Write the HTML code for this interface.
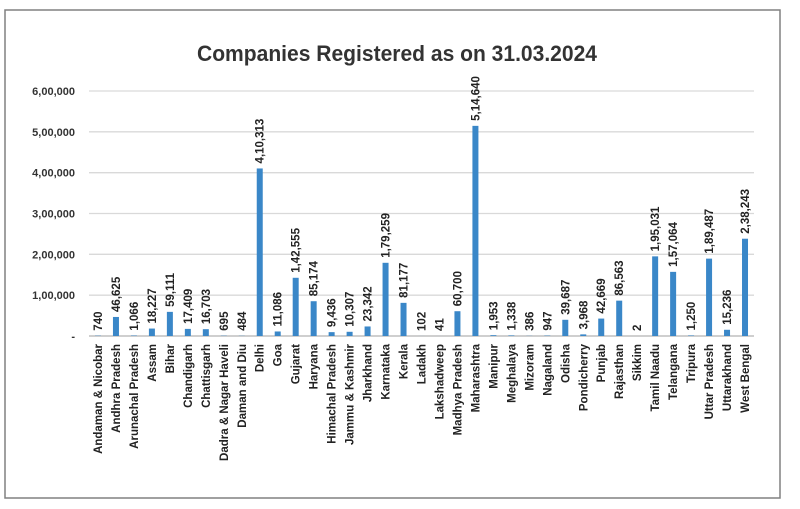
<!DOCTYPE html>
<html><head><meta charset="utf-8"><style>
html,body{margin:0;padding:0;background:#fff;}
svg{display:block;font-family:"Liberation Sans",sans-serif;}
</style></head><body>
<svg id="chart" width="800" height="509">
<rect x="5" y="10" width="775" height="488" fill="#fff" stroke="#808080" stroke-width="1.5"/>
<text x="397" y="61" text-anchor="middle" font-size="22" font-weight="bold" fill="#333" textLength="400" lengthAdjust="spacingAndGlyphs">Companies Registered as on 31.03.2024</text>
<g id="grid"></g><g id="bars"></g><g id="labels"></g>
</svg>
<script>
const categories=["Andaman & Nicobar","Andhra Pradesh","Arunachal Pradesh","Assam","Bihar","Chandigarh","Chattisgarh","Dadra & Nagar Haveli","Daman and Diu","Delhi","Goa","Gujarat","Haryana","Himachal Pradesh","Jammu & Kashmir","Jharkhand","Karnataka","Kerala","Ladakh","Lakshadweep","Madhya Pradesh","Maharashtra","Manipur","Meghalaya","Mizoram","Nagaland","Odisha","Pondicherry","Punjab","Rajasthan","Sikkim","Tamil Naadu","Telangana","Tripura","Uttar Pradesh","Uttarakhand","West Bengal"];
const values=[740,46625,1066,18227,59111,17409,16703,695,484,410313,11086,142555,85174,9436,10307,23342,179259,81177,102,41,60700,514640,1953,1338,386,947,39687,3968,42669,86563,2,195031,157064,1250,189487,15236,238243];
const valueLabels=["740","46,625","1,066","18,227","59,111","17,409","16,703","695","484","4,10,313","11,086","1,42,555","85,174","9,436","10,307","23,342","1,79,259","81,177","102","41","60,700","5,14,640","1,953","1,338","386","947","39,687","3,968","42,669","86,563","2","1,95,031","1,57,064","1,250","1,89,487","15,236","2,38,243"];
const tickValues=[0,100000,200000,300000,400000,500000,600000];
const tickLabels=["-","1,00,000","2,00,000","3,00,000","4,00,000","5,00,000","6,00,000"];
const NS="http://www.w3.org/2000/svg";
const X0=89,X1=754,Y0=336,Y1=91,YMAX=600000;
const band=(X1-X0)/categories.length;
const y=v=>Y0-(v/YMAX)*(Y0-Y1);
const xc=i=>X0+band*(i+0.5);
function mk(tag,attrs,parent){const e=document.createElementNS(NS,tag);for(const k in attrs)e.setAttribute(k,attrs[k]);parent.appendChild(e);return e;}
const grid=document.getElementById('grid'),bars=document.getElementById('bars'),labels=document.getElementById('labels');
tickValues.forEach((t,i)=>{
  if(t>0){const l=mk('line',{x1:X0,x2:X1,y1:y(t),y2:y(t),stroke:'#d9d9d9','stroke-width':1.3},grid);
  
  }
  const tx=mk('text',{x:75,y:y(t)+4,'text-anchor':'end','font-size':11,'font-weight':'bold',fill:'#333'},grid);
  tx.textContent=tickLabels[i];
  
  
});
const ax=mk('line',{x1:X0,x2:X1,y1:Y0,y2:Y0,stroke:'#bfbfbf','stroke-width':1.5},grid);


values.forEach((v,i)=>{
  const bw=6,top=y(v);
  const r=mk('rect',{x:xc(i)-bw/2,y:top,width:bw,height:Y0-top,fill:'#3a87c8'},bars);
  
  
  const vl=mk('text',{transform:`translate(${xc(i)+4},${top-5}) rotate(-90)`,'font-size':11.5,'font-weight':'bold',fill:'#222'},labels);
  vl.textContent=valueLabels[i];
  
  
  const cl=mk('text',{transform:`translate(${xc(i)+4},${Y0+8}) rotate(-90)`,'text-anchor':'end','font-size':11.5,'font-weight':'bold',fill:'#222'},labels);
  cl.textContent=categories[i];
  
  
});
</script>
</body></html>
